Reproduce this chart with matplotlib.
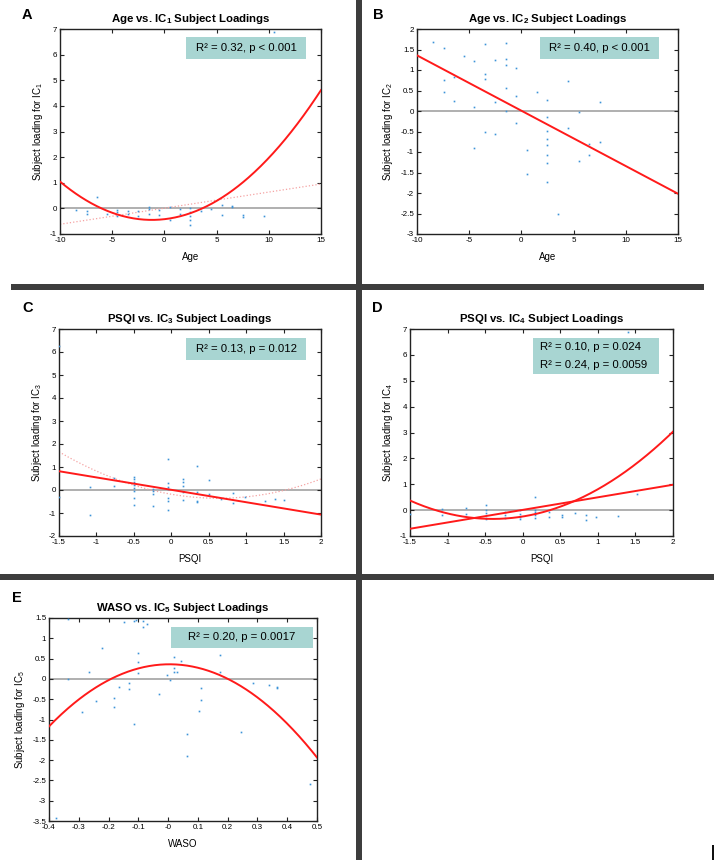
import numpy as np
import matplotlib
matplotlib.use('Agg')
import matplotlib.pyplot as plt
from matplotlib.patches import Rectangle
from matplotlib.ticker import FormatStrFormatter

plt.rcParams['font.family'] = ['Liberation Sans', 'DejaVu Sans']
plt.rcParams['mathtext.fontset'] = 'custom'
plt.rcParams['mathtext.rm'] = 'Liberation Sans'
plt.rcParams['mathtext.it'] = 'Liberation Sans:italic'
plt.rcParams['mathtext.bf'] = 'Liberation Sans:bold'
plt.rcParams['axes.unicode_minus'] = False

# ---------------- data ----------------
# Panel A: Age vs IC1
ageA = [-8.47, -7.44, -7.44, -6.5, -5.46, -4.5, -4.5, -4.5, -3.48, -3.48, -2.49, -2.49,
        -1.5, -1.5, -1.5, -0.5, -0.5, 0.49, 0.49, 1.5, 1.5, 2.47, 2.47, 2.47, 2.47, 2.47,
        3.49, 4.45, 5.47, 5.47, 6.5, 6.5, 7.49, 7.49, 9.5, 10.46]
ic1 = [-0.07, -0.1, -0.2, 0.46, -0.2, -0.07, -0.14, -0.3, -0.12, -0.21, -0.12, -0.3,
       0.04, -0.03, -0.2, -0.07, -0.27, 0.07, -0.45, -0.04, -0.21, 0.0, -0.13, -0.3, -0.45, -0.65,
       -0.1, -0.03, 0.14, -0.26, 0.09, 0.04, -0.26, -0.32, -0.29, 6.9]
fitA_quad = [0.0193, 0.0463, -0.422]
fitA_lin = [0.0628, 0.008]

# Panel B: Age vs IC2
ageB = [-8.47, -7.44, -7.44, -7.44, -6.5, -6.5, -5.46, -4.5, -4.5, -4.5, -3.48, -3.48, -3.48,
        -3.48, -2.49, -2.49, -2.49, -1.5, -1.5, -1.5, -1.5, -1.5, -0.5, -0.5, -0.5, 0.49, 0.49,
        1.5, 2.47, 2.47, 2.47, 2.47, 2.47, 2.47, 2.47, 2.47, 3.49, 4.45, 4.45, 5.47, 5.47,
        6.5, 6.5, 7.49, 7.49]
ic2 = [1.68, 1.53, 0.75, 0.47, 0.82, 0.25, 1.33, 1.23, 0.10, -0.90, 1.63, 0.91, 0.79,
       -0.50, 1.24, 0.23, -0.56, 1.65, 1.26, 1.12, 0.55, 0.0, 1.06, 0.37, -0.30, -0.94, -1.53,
       0.47, 0.26, -0.15, -0.48, -0.69, -0.83, -1.08, -1.28, -1.73, -2.50, 0.72, -0.42, -0.03, -1.23,
       -0.80, -1.08, 0.22, -0.76]
fitB_lin = [-0.135, 0.007]

# Panel C: PSQI vs IC3
psqiC = [-1.5, -1.5, -1.085, -1.085, -0.76, -0.76,
         -0.5, -0.5, -0.5, -0.5, -0.5, -0.5, -0.5, -0.5,
         -0.25, -0.25, -0.25, -0.25,
         -0.05, -0.05, -0.05, -0.05, -0.05, -0.05, -0.05,
         0.155, 0.155, 0.155, 0.155, 0.155,
         0.337, 0.337, 0.337, 0.337, 0.507, 0.507, 0.67, 0.83, 0.83, 0.99, 1.25, 1.38, 1.51]
ic3 = [6.24, -0.29, 0.15, -1.08, 0.51, 0.19,
       0.58, 0.48, 0.35, 0.22, 0.10, -0.04, -0.35, -0.65,
       0.05, -0.04, -0.16, -0.69,
       1.35, 0.29, 0.12, 0.03, -0.36, -0.46, -0.87,
       0.47, 0.34, 0.19, -0.07, -0.43,
       1.06, -0.1, -0.46, -0.53, 0.44, -0.19, -0.4, -0.14, -0.58, -0.3, -0.49, -0.4, -0.45]
fitC_lin = [-0.539, 0.008]
fitC_quad = [0.446, -0.5602, -0.1841]

# Panel D: PSQI vs IC4
psqiD = [-1.5, -1.07, -1.07, -0.76, -0.76, -0.49, -0.49, -0.49, -0.49, -0.49,
         -0.24, -0.24, -0.24, -0.03, -0.03, -0.03, -0.03,
         0.17, 0.17, 0.17, 0.17, 0.17, 0.35, 0.35, 0.52, 0.52, 0.69, 0.84, 0.84, 0.98,
         1.27, 1.40, 1.52]
ic4 = [-0.15, 0.04, -0.2, 0.09, -0.15, 0.19, 0.0, -0.13, -0.3, -0.36,
       -0.06, -0.2, -0.3, 0.0, -0.14, -0.27, -0.33,
       0.52, 0.0, -0.06, -0.2, -0.3, -0.09, -0.26, -0.2, -0.26, -0.13, -0.17, -0.39, -0.27,
       -0.22, 6.88, 0.62]
fitD_lin = [0.486, 0.009]
fitD_quad = [0.586, 0.4676, -0.2467]

# Panel E: WASO vs IC5
wasoE = [-0.336, -0.336, -0.376, -0.288, -0.266, -0.243, -0.221, -0.183, -0.183, -0.165,
         -0.149, -0.132, -0.132, -0.116, -0.116, -0.109, -0.1, -0.1, -0.1, -0.086, -0.086,
         -0.072, -0.03, -0.005, 0.008, 0.02, 0.02, 0.02, 0.031, 0.043, 0.065, 0.065,
         0.104, 0.112, 0.112, 0.175, 0.175, 0.244, 0.285, 0.339, 0.366, 0.366, 0.478]
ic5 = [1.48, 0.0, -3.42, -0.82, 0.18, -0.54, 0.76, -0.48, -0.69, -0.19,
       1.41, -0.09, -0.25, 1.43, -1.11, 1.46, 0.63, 0.41, 0.15, 1.43, 1.29,
       1.34, -0.38, 0.1, -0.03, 0.55, 0.28, 0.17, 0.17, 0.43, -1.36, -1.89,
       -0.8, -0.23, -0.51, 0.59, 0.16, -1.3, -0.09, -0.15, -0.19, -0.22, -2.6]
fitE_quad = [-9.35, 0.0842, 0.3598]

# ---------------- styling ----------------
W, H = 714, 860
fig = plt.figure(figsize=(W / 100, H / 100), dpi=100)

DOT = '#3d93d8'
RED = '#ff1a1a'
BOXC = '#a8d5d2'
SEP = '#3d3d3d'


def rect(l, r, t, b):
    return [l / W, 1 - b / H, (r - l) / W, (b - t) / H]


def panel(pos, xs, ys, xlim, ylim, xticks, yticks, title, xlabel, ylabel,
          fits, dotted):
    ax = fig.add_axes(rect(*pos))
    ax.axhline(0, color='#9a9a9a', lw=1.1, zorder=1)
    ax.plot(xs, ys, 's', ms=1.2, mew=0, color=DOT, zorder=3)
    xx = np.linspace(xlim[0], xlim[1], 300)
    for c in dotted:
        ax.plot(xx, np.polyval(c, xx), ':', color='#f5a3a3', lw=0.9, zorder=2)
    for c in fits:
        ax.plot(xx, np.polyval(c, xx), '-', color=RED, lw=1.4, zorder=4)
    ax.set_xlim(xlim)
    ax.set_ylim(ylim)
    ax.set_xticks(np.round(xticks, 3))
    ax.set_yticks(np.round(yticks, 3))
    ax.xaxis.set_major_formatter(FormatStrFormatter('%g'))
    ax.yaxis.set_major_formatter(FormatStrFormatter('%g'))
    ax.tick_params(direction='in', top=True, right=True, length=3, width=0.8,
                   labelsize=5.8, pad=2, color='#222222')
    for s in ax.spines.values():
        s.set_linewidth(1.0)
        s.set_color('#222222')
    ax.set_title(title, fontsize=8.2, fontweight='bold', pad=5)
    ax.set_xlabel(xlabel, fontsize=7, labelpad=6)
    ax.set_ylabel(ylabel, fontsize=7, labelpad=4)
    return ax


def box(x1, x2, y1, y2, lines, align='center'):
    fig.add_artist(Rectangle((x1 / W, 1 - y2 / H), (x2 - x1) / W, (y2 - y1) / H,
                             transform=fig.transFigure, facecolor=BOXC,
                             edgecolor='none', zorder=5))
    n = len(lines)
    for i, s in enumerate(lines):
        yc = y1 + (y2 - y1) * (i + 0.5) / n
        if align == 'center':
            fig.text((x1 + x2) / 2 / W, 1 - yc / H, s, ha='center', va='center',
                     fontsize=8.2, zorder=6)
        else:
            fig.text((x1 + 7) / W, 1 - yc / H, s, ha='left', va='center',
                     fontsize=8.2, zorder=6)


def letter(x, y, s):
    fig.text(x / W, 1 - y / H, s, fontsize=10.5, fontweight='bold',
             ha='left', va='center')


# Panel A
panel((60, 321, 29, 234), ageA, ic1, (-10, 15), (-1, 7), np.arange(-10, 16, 5),
      np.arange(-1, 8, 1), r'Age vs. IC$_\mathbf{1}$ Subject Loadings', 'Age',
      r'Subject loading for IC$_1$', [fitA_quad], [fitA_lin])
box(186, 306, 37, 59, ['R² = 0.32, p < 0.001'])
letter(22, 15, 'A')

# Panel B
panel((417, 678, 29, 234), ageB, ic2, (-10, 15), (-3, 2), np.arange(-10, 16, 5),
      np.arange(-3, 2.01, 0.5), r'Age vs. IC$_\mathbf{2}$ Subject Loadings', 'Age',
      r'Subject loading for IC$_2$', [fitB_lin], [])
box(540, 659, 37, 59, ['R² = 0.40, p < 0.001'])
letter(373, 15, 'B')

# Panel C
panel((59, 321, 329, 536), psqiC, ic3, (-1.5, 2), (-2, 7), np.arange(-1.5, 2.01, 0.5),
      np.arange(-2, 8, 1), r'PSQI vs. IC$_\mathbf{3}$ Subject Loadings', 'PSQI',
      r'Subject loading for IC$_3$', [fitC_lin], [fitC_quad])
box(186, 306, 338, 360, ['R² = 0.13, p = 0.012'])
letter(22, 308, 'C')

# Panel D
panel((410, 673, 329, 536), psqiD, ic4, (-1.5, 2), (-1, 7), np.arange(-1.5, 2.01, 0.5),
      np.arange(-1, 8, 1), r'PSQI vs. IC$_\mathbf{4}$ Subject Loadings', 'PSQI',
      r'Subject loading for IC$_4$', [fitD_lin, fitD_quad], [])
box(533, 659, 338, 374, ['R² = 0.10, p = 0.024', 'R² = 0.24, p = 0.0059'], align='left')
letter(372, 308, 'D')

# Panel E
panel((49, 317, 618, 821), wasoE, ic5, (-0.4, 0.5), (-3.5, 1.5), np.arange(-0.4, 0.51, 0.1),
      np.arange(-3.5, 1.51, 0.5), r'WASO vs. IC$_\mathbf{5}$ Subject Loadings', 'WASO',
      r'Subject loading for IC$_5$', [fitE_quad], [])
box(171, 313, 627, 648, ['R² = 0.20, p = 0.0017'])
letter(12, 598, 'E')

# separators
def sep(x1, x2, y1, y2, c=SEP):
    fig.add_artist(Rectangle((x1 / W, 1 - y2 / H), (x2 - x1) / W, (y2 - y1) / H,
                             transform=fig.transFigure, facecolor=c,
                             edgecolor='none', zorder=10))

sep(11, 704, 284, 290)
sep(0, 714, 574, 580)
sep(356, 362, 0, 860)
sep(712, 713.5, 845, 860, c='#111111')

fig.savefig('out.png', dpi=100)
